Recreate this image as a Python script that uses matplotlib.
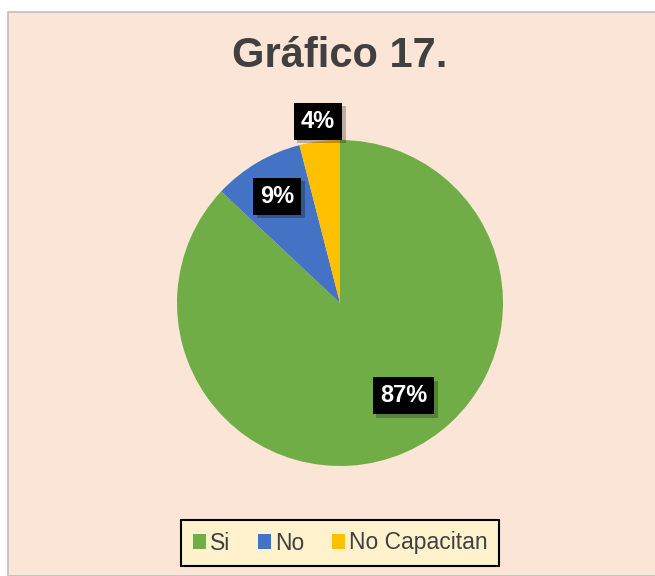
import matplotlib.pyplot as plt
from matplotlib.patches import Rectangle
import matplotlib.patheffects as pe

plt.rcParams['font.family'] = ['Liberation Sans', 'DejaVu Sans']

categorias = ['Si', 'No', 'No Capacitan']
valores = [87, 9, 4]
etiquetas = ['87%', '9%', '4%']
colores = ['#70AD47', '#4472C4', '#FFC000']
# posicion de las etiquetas (x, y) en coordenadas del pastel
pos_etiquetas = [(0.39, -0.57), (-0.385, 0.655), (-0.135, 1.115)]

W, H = 655, 576
fig = plt.figure(figsize=(W / 100, H / 100), dpi=100)
fig.patch.set_facecolor('white')

# area del grafico
fondo = Rectangle((8 / W, 0), 1, (H - 12) / H, transform=fig.transFigure,
                  facecolor='#FBE5D6', edgecolor='#BFBFBF', lw=1.2, zorder=-5)
fig.patches.append(fondo)

fig.text(340 / W, 1 - 56 / H, 'Gráfico 17.', ha='center', va='center',
         fontsize=30, fontweight='bold', color='#404040')

cx, cy, r = 340, 303, 163
ax = fig.add_axes([(cx - r) / W, (H - cy - r) / H, 2 * r / W, 2 * r / H])
ax.set_zorder(2)
ax.set_facecolor('none')
wedges, _ = ax.pie(valores, colors=colores, startangle=90, counterclock=False,
                   radius=1, wedgeprops=dict(linewidth=0))
ax.set_xlim(-1, 1)
ax.set_ylim(-1, 1)
ax.set_aspect('equal')
ax.axis('off')

for (x, y), txt in zip(pos_etiquetas, etiquetas):
    t = ax.text(x, y, txt, ha='center', va='center', fontsize=17, fontweight='bold',
                color='white', clip_on=False, zorder=5,
                bbox=dict(boxstyle='square,pad=0.3', facecolor='black', edgecolor='none'))
    t.get_bbox_patch().set_path_effects([
        pe.SimplePatchShadow(offset=(2.5, -2.5), shadow_rgbFace='black', alpha=0.25),
        pe.Normal()])

leg = fig.legend(wedges, categorias, loc='center', bbox_to_anchor=(340 / W, 1 - 543 / H),
                 ncol=3, fontsize=16.5, frameon=True, fancybox=False,
                 handlelength=0.6, handleheight=0.6, handletextpad=0.15,
                 columnspacing=1.2, borderpad=0.5, borderaxespad=0,
                 labelcolor='#404040')
leg.get_frame().set_facecolor('#FFF2CC')
leg.get_frame().set_edgecolor('black')
leg.get_frame().set_linewidth(1.5)
leg.get_frame().set_alpha(1)

fig.savefig('out.png', dpi=100)
